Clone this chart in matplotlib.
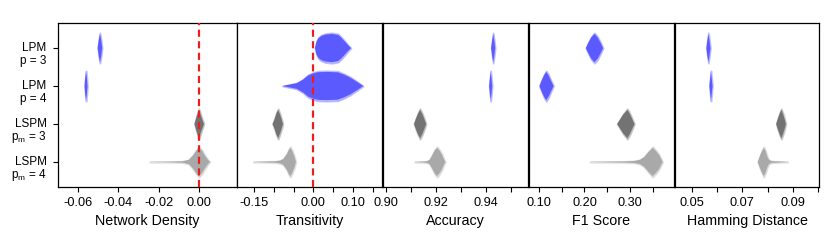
import matplotlib
matplotlib.use("Agg")
import matplotlib.pyplot as plt
import matplotlib.transforms as mtransforms
import numpy as np

plt.rcParams['font.family'] = ['Liberation Sans', 'DejaVu Sans']
plt.rcParams['mathtext.fontset'] = 'custom'
plt.rcParams['mathtext.rm'] = 'Liberation Sans'
plt.rcParams['mathtext.it'] = 'Liberation Sans'

# ---------------- data ----------------
categories = ["LPM\np = 3", "LPM\np = 4", "LSPM\np$_{\\mathrm{m}}$ = 3", "LSPM\np$_{\\mathrm{m}}$ = 4"]
metrics = ["Network Density", "Transitivity", "Accuracy", "F1 Score", "Hamming Distance"]

# violin profiles: value knots and relative half-widths (per category)
density_x = [[-0.0502, -0.0497, -0.0491, -0.0485, -0.0480],
             [-0.0567, -0.0564, -0.0560, -0.0556, -0.0553],
             [-0.0022, -0.0012, 0.0, 0.0012, 0.0025],
             [-0.0245, -0.015, -0.008, -0.005, -0.003, -0.001, 0.0, 0.0015, 0.003, 0.0045, 0.0055]]
density_w = [[0, 0.55, 1, 0.55, 0],
             [0, 0.55, 1, 0.55, 0],
             [0, 0.5, 1, 0.5, 0],
             [0, 0.02, 0.05, 0.15, 0.45, 0.85, 1, 0.8, 0.45, 0.15, 0]]

trans_x = [[0.004, 0.008, 0.013, 0.02, 0.03, 0.047, 0.0625, 0.07, 0.08, 0.088, 0.095],
           [-0.078, -0.06, -0.042, -0.026, -0.013, 0.0, 0.012, 0.035, 0.062, 0.078, 0.093, 0.11, 0.126],
           [-0.103, -0.098, -0.094, -0.089, -0.084, -0.080, -0.077],
           [-0.152, -0.12, -0.095, -0.084, -0.076, -0.067, -0.062, -0.058, -0.053, -0.048, -0.044]]
trans_w = [[0, 0.45, 0.7, 0.85, 0.95, 1, 0.93, 0.75, 0.45, 0.2, 0],
           [0, 0.1, 0.2, 0.45, 0.75, 0.9, 0.98, 1, 0.97, 0.8, 0.6, 0.3, 0],
           [0, 0.35, 0.7, 1, 0.65, 0.3, 0],
           [0, 0.03, 0.05, 0.1, 0.2, 0.55, 0.85, 1, 0.75, 0.4, 0]]

acc_x = [[0.9421, 0.9425, 0.9429, 0.9433, 0.9437],
         [0.9413, 0.9416, 0.9419, 0.9422, 0.9425],
         [0.9113, 0.9120, 0.9128, 0.9137, 0.9146, 0.9154, 0.9161],
         [0.9115, 0.9150, 0.9165, 0.9175, 0.9185, 0.9195, 0.9205, 0.9215, 0.9225, 0.9232, 0.9238]]
acc_w = [[0, 0.55, 1, 0.55, 0],
         [0, 0.55, 1, 0.55, 0],
         [0, 0.35, 0.7, 1, 0.7, 0.35, 0],
         [0, 0.03, 0.06, 0.15, 0.45, 0.8, 1, 0.8, 0.5, 0.2, 0]]

f1_x = [[0.203, 0.209, 0.215, 0.222, 0.229, 0.235, 0.241],
        [0.101, 0.106, 0.111, 0.116, 0.121, 0.126, 0.132],
        [0.272, 0.278, 0.285, 0.2945, 0.300, 0.305, 0.310],
        [0.212, 0.250, 0.290, 0.310, 0.322, 0.331, 0.341, 0.350, 0.358, 0.365, 0.372]]
f1_w = [[0, 0.4, 0.75, 1, 0.75, 0.4, 0],
        [0, 0.4, 0.75, 1, 0.75, 0.4, 0],
        [0, 0.3, 0.65, 1, 0.7, 0.35, 0],
        [0, 0.02, 0.04, 0.07, 0.15, 0.33, 0.7, 1, 0.75, 0.45, 0]]

ham_x = [[0.0558, 0.0562, 0.0566, 0.0570, 0.0574],
         [0.0570, 0.0573, 0.0576, 0.0579, 0.0582],
         [0.0834, 0.0840, 0.0847, 0.0854, 0.0861, 0.0867, 0.0872],
         [0.0761, 0.0768, 0.0776, 0.0785, 0.0792, 0.0798, 0.0805, 0.0815, 0.0850, 0.0880]]
ham_w = [[0, 0.55, 1, 0.55, 0],
         [0, 0.55, 1, 0.55, 0],
         [0, 0.35, 0.7, 1, 0.7, 0.35, 0],
         [0, 0.35, 0.7, 1, 0.75, 0.4, 0.15, 0.06, 0.03, 0]]

xticks = [[-0.06, -0.04, -0.02, 0.00],
          [-0.15, -0.10, -0.05, 0.00, 0.05, 0.10, 0.15],
          [0.90, 0.91, 0.92, 0.93, 0.94, 0.95],
          [0.10, 0.15, 0.20, 0.25, 0.30, 0.35],
          [0.05, 0.06, 0.07, 0.08, 0.09, 0.10]]
xticklabels = [["-0.06", "-0.04", "-0.02", "0.00"],
               ["-0.15", "", "", "0.00", "", "0.10", ""],
               ["0.90", "", "0.92", "", "0.94", ""],
               ["0.10", "", "0.20", "", "0.30", ""],
               ["0.05", "", "0.07", "", "0.09", ""]]
xlims = [(-0.0699, 0.0189), (-0.193, 0.1735), (0.8989, 0.9568), (0.078, 0.397), (0.0434, 0.1003)]
ref_lines = [0.0, 0.0, None, None, None]

# ---------------- style ----------------
core_colors = ["#5555ff", "#5555ff", "#6e6e6e", "#a6a6a6"]
halo_colors = ["#9a9aff", "#9a9aff", "#a8a8a8", "#cfcfcf"]
half = 0.40

profiles_x = [density_x, trans_x, acc_x, f1_x, ham_x]
profiles_w = [density_w, trans_w, acc_w, f1_w, ham_w]

W, H = 830, 249
fig = plt.figure(figsize=(W / 100, H / 100), dpi=100)
panels_px = [(58, 237), (237, 382), (383, 528), (529, 674), (675, 819)]
top_px, bot_px = 23, 187

positions = np.arange(1, len(categories) + 1)

for k, (l, r) in enumerate(panels_px):
    ax = fig.add_axes([l / W, (H - bot_px) / H, (r - l) / W, (bot_px - top_px) / H])
    for i, pos in enumerate(positions):
        xs = np.array(profiles_x[k][i])
        ws = np.array(profiles_w[k][i]) * half
        ax.fill_between(xs, pos - ws, pos + ws, facecolor=halo_colors[i],
                        edgecolor=halo_colors[i], linewidth=1.3, alpha=0.6, zorder=2)
        ax.fill_between(xs, pos - ws * 0.93, pos + ws * 0.93, facecolor=core_colors[i],
                        edgecolor='none', alpha=0.95, zorder=3)
    if ref_lines[k] is not None:
        ax.axvline(ref_lines[k], color='#ee1c1c', lw=1.6, dashes=(3.2, 2.0), zorder=4)
    ax.set_xlim(*xlims[k])
    ax.set_ylim(4.66, 0.34)
    ax.set_xticks(xticks[k])
    ax.set_xticklabels(xticklabels[k], fontsize=9.2)
    ax.tick_params(axis='x', direction='out', length=3.6, width=0.8, pad=3.5, color='black')
    ax.set_xlabel(metrics[k], fontsize=10.3, labelpad=4)
    if k == 0:
        ax.set_yticks(positions)
        ax.set_yticklabels([])
        ax.tick_params(axis='y', direction='out', length=3.6, width=0.8)
        trans = mtransforms.blended_transform_factory(ax.transAxes, ax.transData)
        for pos, lab in zip(positions, categories):
            line1, line2 = lab.split("\n")
            ax.annotate(line1, xy=(-0.064, pos), xycoords=trans, xytext=(0, 0),
                        textcoords='offset points', ha='right', va='center', fontsize=8.5)
            ax.annotate(line2, xy=(-0.064, pos), xycoords=trans, xytext=(0, -9.2),
                        textcoords='offset points', ha='right', va='center', fontsize=8.5)
    else:
        ax.set_yticks([])
    for s in ax.spines.values():
        s.set_linewidth(0.9)
        s.set_color('black')

fig.savefig("out.png", dpi=100)
